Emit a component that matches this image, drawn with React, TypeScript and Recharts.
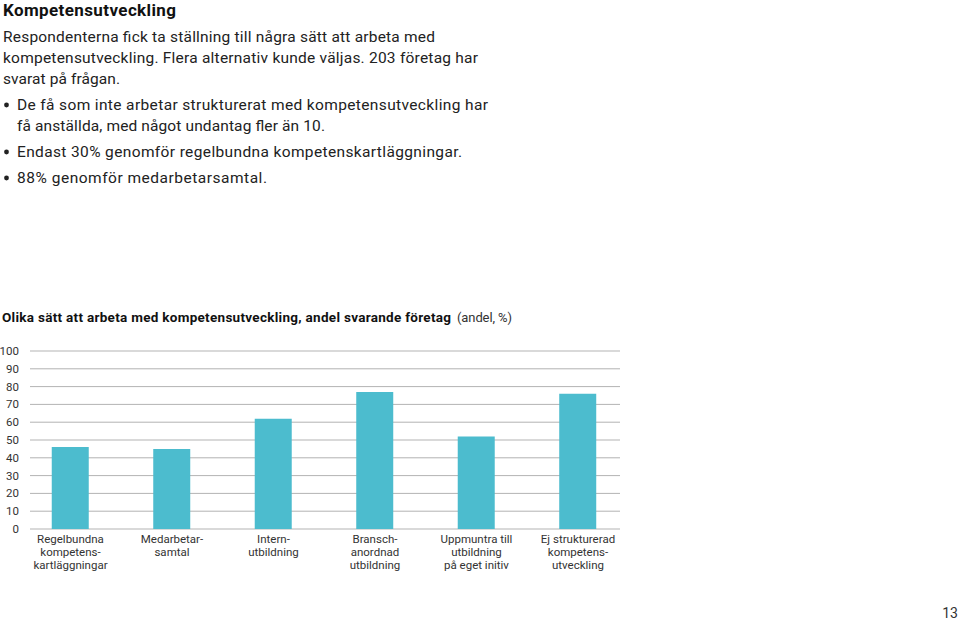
import React from "react";
import { BarChart, Bar, XAxis, YAxis, CartesianGrid } from "recharts";

const categories: string[][] = [
  ["Regelbundna", "kompetens-", "kartläggningar"],
  ["Medarbetar-", "samtal"],
  ["Intern-", "utbildning"],
  ["Bransch-", "anordnad", "utbildning"],
  ["Uppmuntra till", "utbildning", "på eget initiv"],
  ["Ej strukturerad", "kompetens-", "utveckling"],
];
const values: number[] = [46, 45, 62, 77, 52, 76];
const yTicks: number[] = [0, 10, 20, 30, 40, 50, 60, 70, 80, 90, 100];

const titleText = "Kompetensutveckling";
const introLines: string[] = [
  "Respondenterna fick ta ställning till några sätt att arbeta med",
  "kompetensutveckling. Flera alternativ kunde väljas. 203 företag har",
  "svarat på frågan.",
];
const bulletLines: string[][] = [
  ["De få som inte arbetar strukturerat med kompetensutveckling har", "få anställda, med något undantag fler än 10."],
  ["Endast 30% genomför regelbundna kompetenskartläggningar."],
  ["88% genomför medarbetarsamtal."],
];
const chartTitle = "Olika sätt att arbeta med kompetensutveckling, andel svarande företag";
const chartUnit = "(andel, %)";
const pageNumber = "13";

const data = values.map((v, i) => ({ idx: i, value: v }));

const FONT = "Roboto, 'Noto Sans', sans-serif";

const XTick = (props: any) => {
  const { x, y, payload } = props;
  const lines = categories[payload.value] || [];
  return (
    <g>
      {lines.map((l, i) => (
        <text
          key={i}
          x={x}
          y={y + i * 13}
          textAnchor="middle"
          fontSize={11.5}
          fontFamily={FONT}
          fill="#333"
        >
          {l}
        </text>
      ))}
    </g>
  );
};

// layout helpers for the text block (positions, not data)
const introLayout = [
  { y: 42, w: 432 },
  { y: 63, w: 475 },
  { y: 84, w: 117 },
];
const bulletLayout = [
  [{ y: 110, w: 471 }, { y: 131, w: 308 }],
  [{ y: 157, w: 445 }],
  [{ y: 183, w: 250 }],
];

export default function App() {
  return (
    <div
      style={{
        position: "absolute",
        left: 0,
        top: 0,
        width: 960,
        height: 621,
        background: "#fff",
        overflow: "hidden",
        fontFamily: FONT,
      }}
    >
      <svg width={960} height={621} style={{ position: "absolute", left: 0, top: 0 }}>
        <text x={3} y={16} fontFamily={FONT} fontWeight={700} fontSize={17} fill="#111" textLength={173} lengthAdjust="spacing">
          {titleText}
        </text>
        {introLines.map((l, i) => (
          <text key={i} x={3} y={introLayout[i].y} fontFamily={FONT} fontSize={15.5} fill="#222" textLength={introLayout[i].w} lengthAdjust="spacing">
            {l}
          </text>
        ))}
        {bulletLines.map((b, bi) => (
          <g key={bi}>
            <circle cx={6.5} cy={bulletLayout[bi][0].y - 5} r={2.4} fill="#222" />
            {b.map((l, li) => (
              <text key={li} x={17} y={bulletLayout[bi][li].y} fontFamily={FONT} fontSize={15.5} fill="#222" textLength={bulletLayout[bi][li].w} lengthAdjust="spacing">
                {l}
              </text>
            ))}
          </g>
        ))}
        <text x={2} y={322} fontFamily={FONT} fontWeight={700} fontSize={13.5} fill="#111" textLength={449} lengthAdjust="spacing">
          {chartTitle}
        </text>
        <text x={457} y={322} fontFamily={FONT} fontSize={13} fill="#333" textLength={55} lengthAdjust="spacing">
          {chartUnit}
        </text>
        <text x={958} y={618} textAnchor="end" fontFamily={FONT} fontSize={14} fill="#333">
          {pageNumber}
        </text>
      </svg>

      <div style={{ position: "absolute", left: 0, top: 340 }}>
        <BarChart
          width={640}
          height={240}
          data={data}
          margin={{ top: 11, right: 20, bottom: 0, left: 0 }}
        >
          <CartesianGrid vertical={false} stroke="#b3b3b3" strokeWidth={1} />
          <XAxis
            dataKey="idx"
            type="number"
            domain={[-0.399, 5.414]}
            ticks={[0, 1, 2, 3, 4, 5]}
            axisLine={false}
            tickLine={false}
            tick={<XTick />}
            tickMargin={8}
            height={51}
            interval={0}
            allowDataOverflow
          />
          <YAxis
            type="number"
            domain={[0, 100]}
            ticks={yTicks}
            axisLine={false}
            tickLine={false}
            tickSize={0}
            tickMargin={11}
            width={30}
            interval={0}
            tick={{ fontSize: 11.5, fill: "#333", fontFamily: FONT }}
          />
          <Bar dataKey="value" fill="#4cbcce" barSize={37} isAnimationActive={false} />
        </BarChart>
      </div>
    </div>
  );
}
